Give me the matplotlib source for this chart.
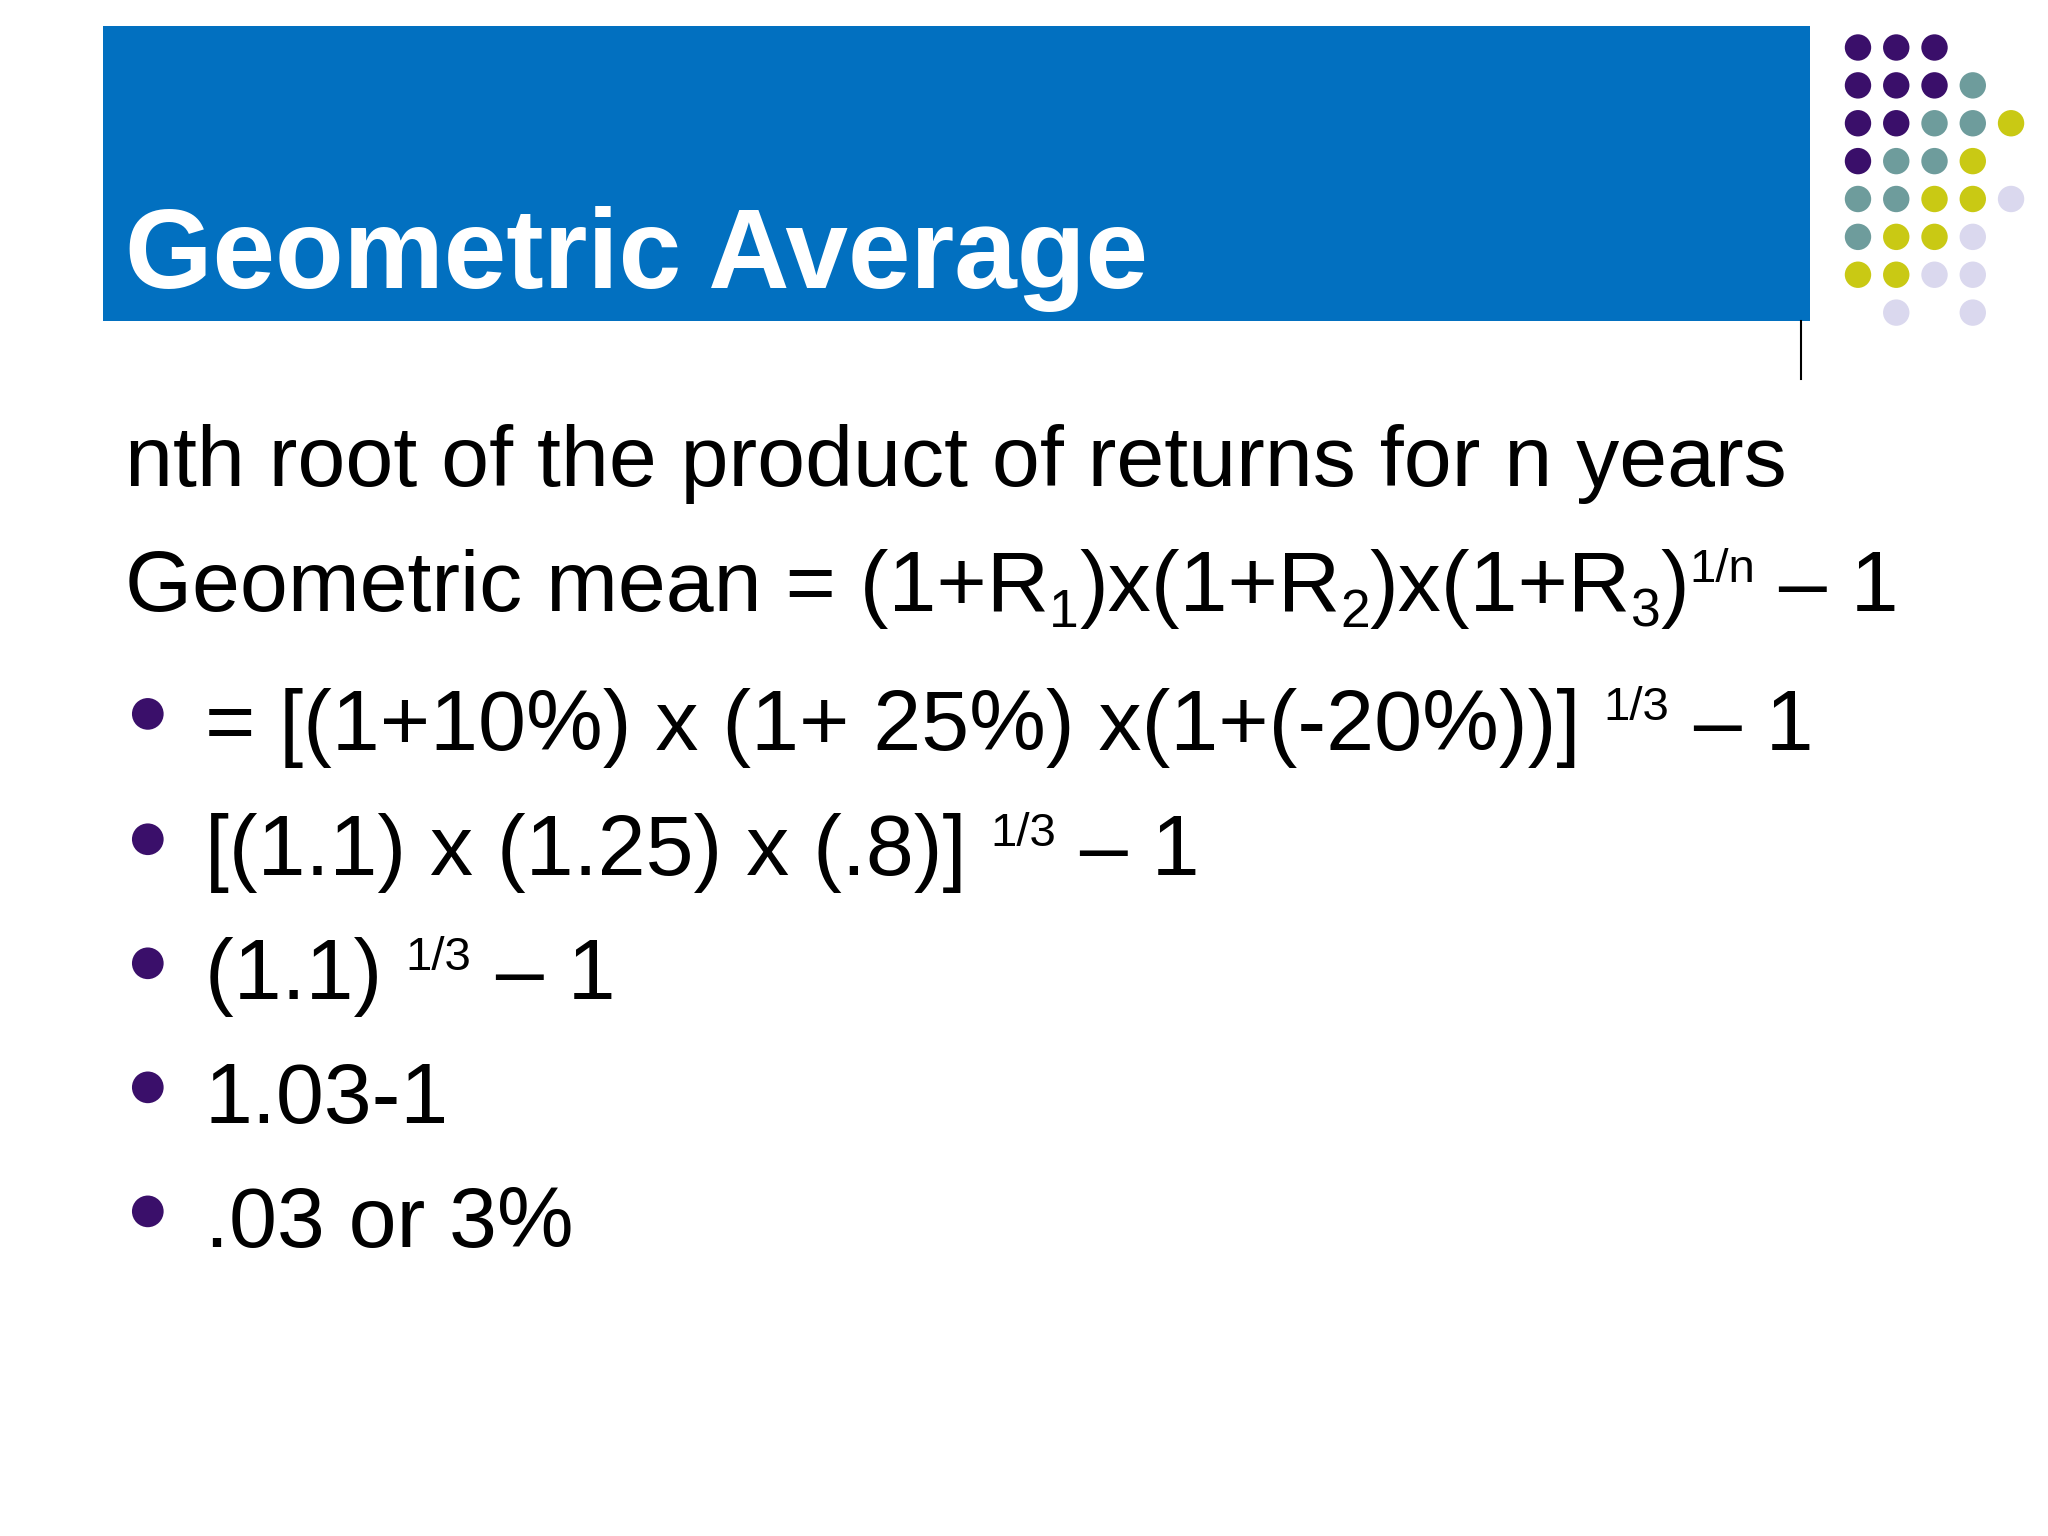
import matplotlib
matplotlib.use("Agg")
import matplotlib.pyplot as plt
from matplotlib.patches import Rectangle, Circle

W, H = 1552, 1164
title = "Geometric Average"
lines = [
    [("nth root of the product of returns for n years", "n")],
    [("Geometric mean = (1+R", "n"), ("1", "sub"), (")x(1+R", "n"), ("2", "sub"),
     (")x(1+R", "n"), ("3", "sub"), (")", "n"), ("1/n", "sup"), (" \u2013 1", "n")],
]
bullets = [
    [("= [(1+10%) x (1+ 25%) x(1+(-20%))] ", "n"), ("1/3", "sup"), (" \u2013 1", "n")],
    [("[(1.1) x (1.25) x (.8)] ", "n"), ("1/3", "sup"), (" \u2013 1", "n")],
    [("(1.1) ", "n"), ("1/3", "sup"), (" \u2013 1", "n")],
    [("1.03-1", "n")],
    [(".03 or 3%", "n")],
]
line_y = [368, 463]
bullet_y = [568, 663, 757, 851, 945]

P, T, Y, L = "#3a0f6a", "#6e9c9c", "#c9c914", "#dad8ee"
dot_grid = [
    [P, P, P, None, None],
    [P, P, P, T, None],
    [P, P, T, T, Y],
    [P, T, T, Y, None],
    [T, T, Y, Y, L],
    [T, Y, Y, L, None],
    [Y, Y, L, L, None],
    [None, L, None, L, None],
]

plt.rcParams['font.family'] = ['Liberation Sans', 'DejaVu Sans']
fig = plt.figure(figsize=(20.48, 15.36), dpi=100)
ax = fig.add_axes([0, 0, 1, 1])
ax.set_xlim(0, W); ax.set_ylim(H, 0); ax.axis("off")

ax.add_patch(Rectangle((78, 20), 1294, 223, color="#0270c0", lw=0))
ax.text(95, 218, title, color="white", fontsize=81, fontweight="bold", va="baseline")
ax.plot([1365, 1365], [243, 287], color="black", lw=1.5)

for r, row in enumerate(dot_grid):
    for c, col in enumerate(row):
        if col:
            ax.add_patch(Circle((1408 + 29 * c, 36 + 28.7 * r), 10, color=col, lw=0))

fig.canvas.draw()
renderer = fig.canvas.get_renderer()
inv = ax.transData.inverted()
FS = 62

def draw(x, y, segs):
    for txt, kind in segs:
        fs, dy = FS, 0
        if kind == "sub":
            fs, dy = FS * 0.62, 12
        elif kind == "sup":
            fs, dy = FS * 0.55, -22
        t = ax.text(x, y + dy, txt, fontsize=fs, color="black", va="baseline")
        bb = t.get_window_extent(renderer)
        x += inv.transform((bb.x1, 0))[0] - inv.transform((bb.x0, 0))[0]

for segs, y in zip(lines, line_y):
    draw(95, y, segs)
for segs, y in zip(bullets, bullet_y):
    ax.add_patch(Circle((112, y - 27), 12, color=P, lw=0))
    draw(155, y, segs)

fig.savefig("out.png", dpi=100)
